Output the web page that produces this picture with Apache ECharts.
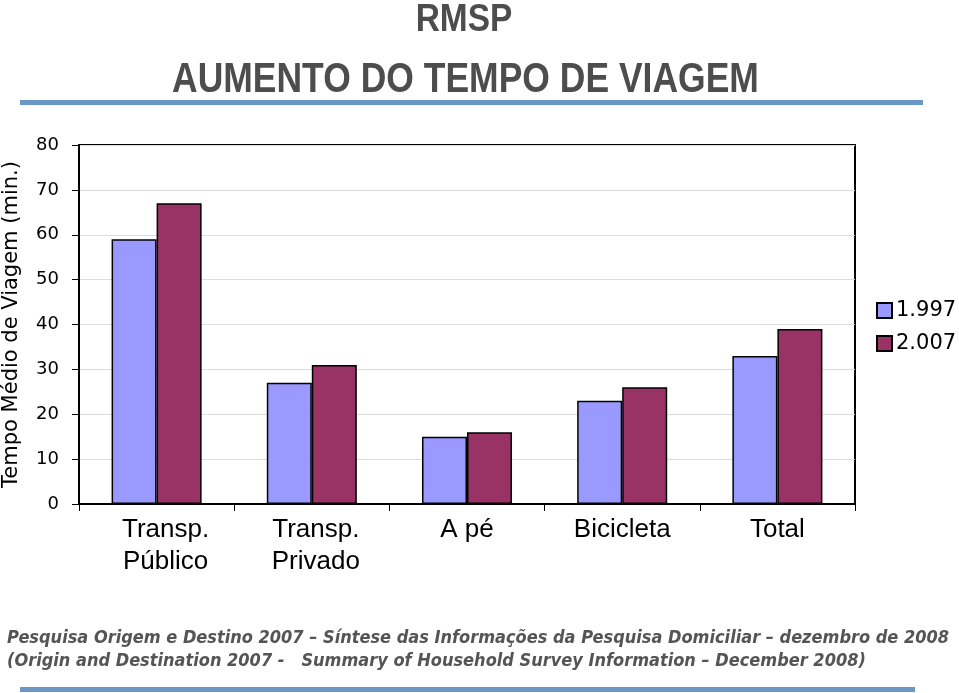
<!DOCTYPE html>
<html><head><meta charset="utf-8">
<script src="https://cdn.jsdelivr.net/npm/echarts@6/dist/echarts.min.js"></script>
<style>html,body{margin:0;padding:0;background:#fff}#c{width:959px;height:693px}</style>
</head><body><div id="c"></div>
<script>
var categories = ['Transp.\nPúblico', 'Transp.\nPrivado', 'A pé', 'Bicicleta', 'Total'];
var seriesNames = ['1.997', '2.007'];
var values1997 = [59, 27, 15, 23, 33];
var values2007 = [67, 31, 16, 26, 39];
var yTicks = [0, 10, 20, 30, 40, 50, 60, 70, 80];

var labelPad = [[0,0,0,18], [0,0,0,8], 0, 0, 0];
var catData = categories.map(function (c, i) {
  return {value: c, textStyle: {padding: labelPad[i]}};
});

var chart = echarts.init(document.getElementById('c'), null, {renderer: 'canvas'});
var footFont = '"DejaVu Sans Condensed", "DejaVu Sans", sans-serif';
var titleFont = '"Liberation Sans Narrow", "Liberation Sans", Arial, sans-serif';
chart.setOption({
  backgroundColor: '#fff',
  animation: false,
  grid: {left: 79, right: 104, top: 145, bottom: 189, show: true, borderColor: '#000', borderWidth: 2,
    backgroundColor: '#fff', containLabel: false, outerBoundsMode: 'none'},
  legend: {
    orient: 'vertical', left: 871, top: 295, itemGap: 12, itemWidth: 15, itemHeight: 15, icon: 'rect',
    data: seriesNames,
    textStyle: {fontFamily: '"DejaVu Sans", Verdana, sans-serif', fontSize: 21, color: '#000', padding: [0,0,0,-1]}
  },
  xAxis: {
    type: 'category', data: catData,
    axisLine: {lineStyle: {color: '#000', width: 2}},
    axisTick: {show: true, length: 7, lineStyle: {color: '#000', width: 1}},
    axisLabel: {fontFamily: '"Liberation Sans", Arial, sans-serif', fontSize: 26, color: '#000', margin: 10, lineHeight: 32}
  },
  yAxis: {
    type: 'value', min: 0, max: 80, interval: 10,
    name: 'Tempo Médio de Viagem (min.)', nameLocation: 'middle', nameGap: 57, nameRotate: 90,
    nameTextStyle: {fontFamily: '"DejaVu Sans", Verdana, sans-serif', fontSize: 21, color: '#000'},
    axisLine: {show: true, lineStyle: {color: '#000', width: 2}},
    axisTick: {show: true, length: 7, lineStyle: {color: '#000'}},
    splitLine: {lineStyle: {color: '#dcdcdc', width: 1}},
    axisLabel: {fontFamily: '"DejaVu Sans", Verdana, sans-serif', fontSize: 18, color: '#000', margin: 20,
      formatter: function (v) { return yTicks.indexOf(v) >= 0 ? String(v) : ''; }}
  },
  series: [
    {name: seriesNames[0], type: 'bar', data: values1997, barGap: '0%', barCategoryGap: '42%',
     itemStyle: {color: '#9999ff', borderColor: '#000', borderWidth: 1.5}},
    {name: seriesNames[1], type: 'bar', data: values2007, barGap: '0%', barCategoryGap: '42%',
     itemStyle: {color: '#993366', borderColor: '#000', borderWidth: 1.5}}
  ],
  graphic: [
    {type: 'text', x: 464, y: 2, scaleX: 0.88, style: {text: 'RMSP', fill: '#4d4d4d', textAlign: 'center',
      font: 'bold 38px ' + titleFont}},
    {type: 'text', x: 172, y: 59, scaleX: 0.845, style: {text: 'AUMENTO DO TEMPO DE VIAGEM', fill: '#4d4d4d',
      font: 'bold 42px ' + titleFont}},
    {type: 'rect', shape: {x: 20, y: 100, width: 903, height: 5}, style: {fill: '#6b96c8'}},
    {type: 'text', x: 7, y: 629, style: {text: 'Pesquisa Origem e Destino 2007 – Síntese das Informações da Pesquisa Domiciliar – dezembro de 2008', fill: '#555',
      font: 'italic bold 18px ' + footFont}},
    {type: 'text', x: 7, y: 652, style: {text: '(Origin and Destination 2007 -   Summary of Household Survey Information – December 2008)', fill: '#555',
      font: 'italic bold 18px ' + footFont}},
    {type: 'rect', shape: {x: 20, y: 687, width: 895, height: 5}, style: {fill: '#6b96c8'}}
  ]
});
</script></body></html>
